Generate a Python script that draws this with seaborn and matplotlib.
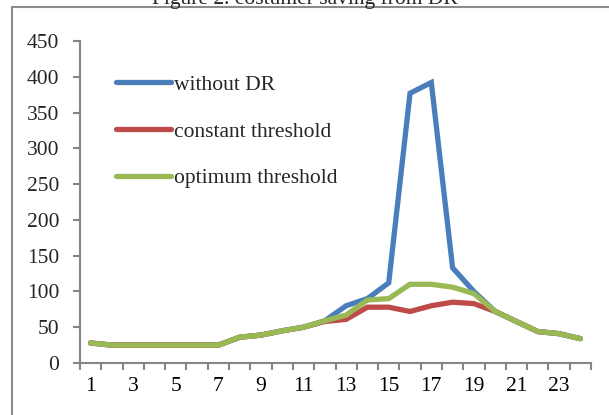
import numpy as np
import pandas as pd
import seaborn as sns
import matplotlib
matplotlib.use("Agg")
import matplotlib.pyplot as plt
from matplotlib.lines import Line2D

hours = list(range(1, 25))
without_dr = [28, 25, 25, 25, 25, 25, 25, 36, 39, 45, 50, 59, 80, 90, 112, 377, 392, 133, 100, 72, 58, 44, 41, 34]
constant_thr = [28, 25, 25, 25, 25, 25, 25, 36, 39, 45, 50, 58, 61, 78, 78, 72, 80, 85, 83, 72, 58, 44, 41, 34]
optimum_thr = [28, 25, 25, 25, 25, 25, 25, 36, 39, 45, 50, 59, 67, 88, 90, 110, 110, 106, 97, 72, 58, 44, 41, 34]
series_names = ["without DR", "constant threshold", "optimum threshold"]
colors = ["#4a7ebb", "#be4b48", "#98b954"]
title = "Figure 2. costumer saving from DR"

df = pd.DataFrame({
    "hour": hours * 3,
    "value": without_dr + constant_thr + optimum_thr,
    "series": sum([[n] * len(hours) for n in series_names], []),
})

sns.set_theme(style="white")
plt.rcParams["font.family"] = ["Liberation Serif", "DejaVu Serif"]

fig = plt.figure(figsize=(6.09, 4.15), dpi=100)
ax = fig.add_axes([80 / 609, 1 - 363 / 415, (591 - 80) / 609, (363 - 41) / 415])

sns.lineplot(data=df, x="hour", y="value", hue="series", palette=colors,
             hue_order=series_names, linewidth=3.8, ax=ax, legend=False)
for ln in ax.get_lines():
    ln.set_solid_capstyle("round")
    ln.set_solid_joinstyle("miter")

ax.set_xlim(0.5, 24.5)
ax.set_ylim(0, 450)
ax.set_yticks(range(0, 451, 50))
ax.set_xticks(range(1, 25, 2))
ax.set_xticks(np.arange(0.5, 25, 1), minor=True)
ax.set_xlabel("")
ax.set_ylabel("")
for s in ["top", "right"]:
    ax.spines[s].set_visible(False)
for s in ["left", "bottom"]:
    ax.spines[s].set_color("#868686")
    ax.spines[s].set_linewidth(1.5)
ax.tick_params(axis="x", which="major", length=0, labelsize=15.5, pad=10, colors="black")
ax.tick_params(axis="x", which="minor", length=5, width=1.5, color="#868686", bottom=True)
ax.tick_params(axis="y", length=5, width=1.5, color="#868686", labelsize=15.5, pad=10, left=True)
ax.grid(False)

handles = [Line2D([0], [0], color=c, lw=3.8, solid_capstyle="round") for c in colors]
ax.legend(handles, series_names, loc="upper left", bbox_to_anchor=(0.033, 0.955),
          frameon=False, fontsize=15.5, handlelength=2.56, handletextpad=0.1,
          labelspacing=1.24)

fig.text(0.5, 1 - 4 / 415, title, ha="center", va="baseline", fontsize=15.5)
fig.add_artist(Line2D([12 / 609, 12 / 609], [0, 1 - 7 / 415], color="#8c8c8c", lw=1.5,
                      transform=fig.transFigure))
fig.add_artist(Line2D([12 / 609, 1], [1 - 7 / 415, 1 - 7 / 415], color="#8c8c8c", lw=1.5,
                      transform=fig.transFigure))

fig.savefig("out.png", dpi=100)
